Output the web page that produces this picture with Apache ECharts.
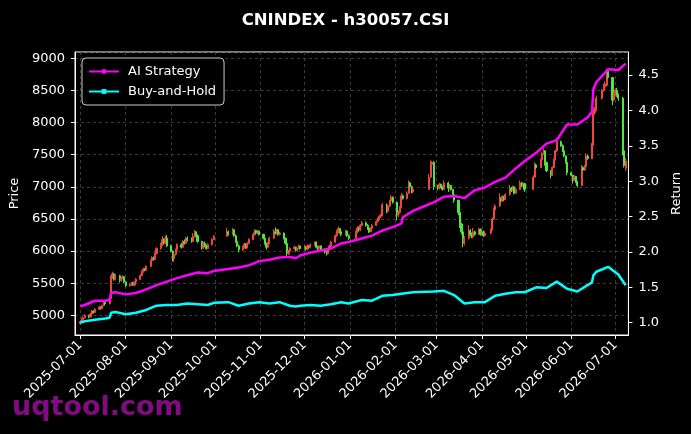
<!DOCTYPE html>
<html>
<head>
<meta charset="utf-8">
<script src="https://cdn.jsdelivr.net/npm/echarts@6/dist/echarts.min.js"></script>
<style>
  html, body { margin: 0; padding: 0; background: #000; }
  #main { width: 691px; height: 434px; }
</style>
</head>
<body>
<div id="main"></div>
<script>
/* 数据 */
var holidays = ['2025-10-01','2025-10-02','2025-10-03','2025-10-06','2025-10-07','2025-10-08',
  '2026-01-01','2026-01-02','2026-02-16','2026-02-17','2026-02-18','2026-02-19','2026-02-20','2026-02-23',
  '2026-04-06','2026-05-01','2026-05-04','2026-05-05','2026-06-19'];

// [open, close, low, high], one row per trading day
var ohlc = [
  // 2025-07
  [4870,4905,4850,4925],[4905,4935,4890,4960],[4935,4965,4920,4985],[4965,4995,4950,5020],
  [4995,4975,4955,5010],[4975,5020,4965,5040],[5020,5065,5005,5085],[5065,5045,5030,5080],
  [5045,5095,5035,5115],[5095,5125,5080,5150],[5125,5105,5090,5140],[5105,5150,5095,5170],
  [5150,5200,5140,5225],[5200,5180,5160,5215],[5180,5230,5170,5250],[5260,5590,5250,5620],
  [5590,5645,5570,5680],[5645,5560,5540,5660],[5560,5615,5545,5640],[5615,5540,5510,5630],
  [5540,5580,5525,5600],[5580,5600,5560,5625],[5600,5520,5500,5610],
  // 2025-08
  [5520,5460,5440,5530],[5460,5480,5445,5500],[5480,5505,5465,5520],[5505,5470,5455,5515],
  [5470,5520,5460,5535],[5520,5560,5505,5580],[5560,5620,5550,5640],[5620,5680,5610,5700],
  [5680,5720,5665,5740],[5720,5700,5685,5735],[5700,5760,5690,5780],[5760,5850,5750,5870],
  [5850,5900,5830,5920],[5900,5870,5850,5915],[5870,5960,5860,5980],[5960,6040,5950,6060],
  [6040,6100,6020,6130],[6100,6180,6080,6230],[6180,6120,6100,6200],[6120,6200,6110,6240],
  [6200,6080,6060,6250],
  // 2025-09
  [6080,6000,5980,6100],[6000,5880,5840,6010],[5880,5950,5830,5970],[5950,6020,5930,6040],
  [6020,6100,6000,6120],[6100,6060,6040,6130],[6060,6150,6050,6170],[6150,6120,6100,6180],
  [6120,6200,6110,6220],[6200,6180,6150,6230],[6180,6150,6130,6210],[6150,6230,6140,6280],
  [6230,6300,6210,6330],[6300,6240,6220,6310],[6240,6150,6130,6260],[6150,6050,6020,6160],
  [6050,6120,6030,6140],[6120,6080,6060,6150],[6080,6040,6020,6100],[6040,6100,6030,6120],
  [6100,6180,6090,6200],[6180,6230,6170,6250],
  // 2025-10
  [6230,6300,6220,6360],[6300,6270,6240,6320],[6270,6330,6250,6360],[6330,6240,6220,6340],
  [6240,6150,6130,6260],[6150,6080,6060,6170],[6080,6020,5980,6100],[6020,6060,6000,6080],
  [6060,6110,6040,6130],[6110,6050,6030,6120],[6050,6120,6040,6140],[6120,6180,6100,6200],
  [6180,6260,6170,6290],[6260,6320,6240,6340],[6320,6280,6260,6330],[6280,6310,6260,6330],
  [6310,6260,6240,6320],
  // 2025-11
  [6260,6200,6180,6270],[6200,6120,6100,6210],[6120,6060,6020,6130],[6060,6120,6050,6140],
  [6120,6200,6110,6220],[6200,6300,6190,6340],[6300,6280,6260,6370],[6280,6330,6260,6350],
  [6330,6260,6240,6340],[6260,6280,6240,6300],[6280,6200,6180,6290],[6200,6120,6100,6210],
  [6120,5960,5910,6130],[5960,6000,5940,6020],[6000,6040,5980,6060],[6040,6060,6020,6080],
  [6060,6010,5990,6070],[6010,6050,6000,6070],[6050,6080,6030,6100],[6080,6040,6020,6090],
  // 2025-12
  [6040,6070,6020,6090],[6070,6030,6010,6080],[6030,6080,6010,6100],[6080,6060,6040,6090],
  [6060,6100,6040,6120],[6100,6140,6080,6150],[6140,6060,6040,6150],[6060,6040,6010,6080],
  [6040,6080,6020,6090],[6080,6030,6010,6090],[6030,5990,5960,6040],[5990,5960,5930,6010],
  [5960,6020,5950,6040],[6020,6080,6010,6100],[6080,6140,6070,6160],[6140,6240,6130,6260],
  [6240,6300,6220,6330],[6300,6350,6280,6380],[6350,6300,6270,6360],[6300,6260,6230,6310],
  [6260,6310,6240,6330],[6310,6240,6220,6320],[6240,6200,6170,6260],
  // 2026-01
  [6200,6300,6190,6320],[6300,6360,6280,6390],[6360,6330,6300,6380],[6330,6400,6310,6420],
  [6400,6440,6380,6470],[6440,6400,6380,6460],[6400,6360,6330,6420],[6360,6300,6280,6380],
  [6300,6350,6290,6370],[6350,6400,6340,6420],[6400,6460,6390,6480],[6460,6500,6440,6520],
  [6500,6540,6480,6560],[6540,6560,6510,6580],[6560,6720,6540,6750],[6720,6620,6590,6740],
  [6620,6700,6600,6720],[6700,6780,6680,6800],[6780,6840,6760,6870],[6840,6760,6740,6850],
  // 2026-02
  [6760,6560,6480,6770],[6560,6600,6530,6630],[6600,6680,6580,6700],[6680,6860,6670,6900],
  [6860,6820,6800,6880],[6820,6900,6800,6930],[6900,7060,6890,7100],[7060,7000,6980,7080],
  [7000,6920,6900,7020],[6920,6960,6900,6990],[6960,7150,6950,7200],[7150,7350,7140,7410],
  [7350,7380,7320,7400],[7380,7000,6950,7400],
  // 2026-03
  [7000,6980,6950,7030],[6980,7040,6960,7060],[7040,7000,6980,7050],[7000,6960,6940,7020],
  [6960,7060,6950,7100],[7060,6980,6920,7080],[6980,7020,6960,7040],[7020,6960,6940,7030],
  [6960,6880,6860,6970],[6880,6790,6750,6900],[6790,6600,6560,6800],[6600,6420,6360,6610],
  [6420,6300,6260,6440],[6300,6120,6060,6320],[6120,6200,6090,6230],[6200,6320,6180,6400],
  [6320,6260,6230,6340],[6260,6220,6200,6290],[6220,6300,6200,6360],[6300,6260,6240,6320],
  [6260,6340,6250,6360],[6340,6260,6240,6350],
  // 2026-04
  [6260,6300,6240,6320],[6300,6240,6220,6320],[6240,6280,6230,6300],[6280,6330,6260,6350],
  [6330,6500,6320,6520],[6500,6640,6480,6680],[6640,6700,6620,6730],[6700,6820,6690,6900],
  [6820,6780,6760,6840],[6780,6850,6770,6870],[6850,6800,6780,6860],[6800,6880,6790,6900],
  [6880,6980,6860,7030],[6980,6940,6920,7000],[6940,7000,6930,7020],[7000,6900,6880,7010],
  [6900,6960,6890,6980],[6960,7060,6950,7100],[7060,7020,7000,7080],[7020,7050,7000,7070],
  [7050,6960,6920,7060],
  // 2026-05
  [6960,7150,6950,7180],[7150,7340,7140,7380],[7340,7300,7280,7360],[7300,7420,7290,7440],
  [7420,7520,7400,7540],[7520,7560,7500,7600],[7560,7380,7330,7570],[7380,7250,7230,7390],
  [7250,7180,7130,7260],[7180,7300,7170,7320],[7300,7420,7290,7440],[7420,7560,7410,7580],
  [7560,7700,7540,7760],[7700,7640,7620,7720],[7640,7560,7540,7660],[7560,7480,7460,7570],
  [7480,7380,7360,7490],[7380,7220,7180,7390],
  // 2026-06
  [7220,7180,7160,7240],[7180,7100,7050,7190],[7100,7160,7090,7180],[7160,7080,7060,7170],
  [7080,7020,6990,7090],[7020,7300,7010,7340],[7300,7260,7240,7320],[7260,7320,7250,7340],
  [7320,7480,7310,7520],[7480,7440,7420,7500],[7440,7650,7430,7680],[7650,8150,7640,8220],
  [8150,8200,8120,8240],[8200,8380,8180,8420],[8380,8500,8360,8520],[8500,8560,8480,8600],
  [8560,8600,8540,8640],[8580,8800,8560,8840],[8800,8700,8680,8820],[8700,8350,8270,8710],
  [8350,8450,8330,8480],
  // 2026-07
  [8450,8500,8420,8530],[8500,8420,8400,8540],[8420,8380,8340,8450],[8380,7560,7490,8400],
  [7560,7330,7300,7580],[7290,7400,7250,7450]
];

var lineDates = ['2025-07-01','2025-07-04','2025-07-11','2025-07-18','2025-07-21','2025-07-22','2025-07-25',
  '2025-08-01','2025-08-08','2025-08-15','2025-08-22','2025-08-29','2025-09-05','2025-09-12','2025-09-19',
  '2025-09-26','2025-09-30','2025-10-10','2025-10-17','2025-10-24','2025-10-31','2025-11-07','2025-11-14',
  '2025-11-21','2025-11-25','2025-11-28','2025-12-05','2025-12-12','2025-12-19','2025-12-26','2025-12-31',
  '2026-01-09','2026-01-16','2026-01-23','2026-01-30','2026-02-05','2026-02-06','2026-02-13','2026-02-27',
  '2026-03-06','2026-03-13','2026-03-20','2026-03-27','2026-04-03','2026-04-10','2026-04-17','2026-04-24',
  '2026-04-30','2026-05-08','2026-05-15','2026-05-22','2026-05-29','2026-06-05','2026-06-12','2026-06-15',
  '2026-06-16','2026-06-18','2026-06-26','2026-07-03','2026-07-08'];
var aiReturn = [1.23,1.25,1.31,1.31,1.32,1.42,1.43,
  1.40,1.42,1.47,1.53,1.58,1.63,1.67,1.71,
  1.70,1.73,1.76,1.78,1.81,1.87,1.89,1.92,
  1.93,1.91,1.95,1.99,2.02,2.05,2.12,2.14,
  2.19,2.23,2.30,2.35,2.40,2.49,2.58,2.70,
  2.78,2.79,2.76,2.87,2.91,2.99,3.05,3.18,
  3.28,3.40,3.53,3.58,3.80,3.80,3.90,3.98,
  4.30,4.40,4.58,4.57,4.66];
var bhReturn = [1.00,1.02,1.04,1.06,1.07,1.14,1.15,
  1.12,1.14,1.18,1.24,1.25,1.25,1.27,1.26,
  1.25,1.28,1.29,1.24,1.27,1.29,1.27,1.29,
  1.24,1.23,1.24,1.25,1.24,1.26,1.29,1.27,
  1.32,1.31,1.38,1.39,1.41,1.40,1.43,1.44,
  1.45,1.39,1.27,1.29,1.29,1.38,1.41,1.43,
  1.43,1.50,1.49,1.58,1.48,1.44,1.53,1.57,
  1.67,1.72,1.79,1.68,1.53];

/* 交易日 */
function fmt(d) {
  var m = d.getMonth() + 1, dd = d.getDate();
  return d.getFullYear() + '-' + (m < 10 ? '0' + m : m) + '-' + (dd < 10 ? '0' + dd : dd);
}
var tradeDays = [];
for (var d = new Date(2025, 6, 1); d <= new Date(2026, 6, 8); d.setDate(d.getDate() + 1)) {
  var wd = d.getDay();
  var s = fmt(d);
  if (wd !== 0 && wd !== 6 && holidays.indexOf(s) < 0) tradeDays.push(s);
}
if (tradeDays.length !== ohlc.length) console.log('count mismatch', tradeDays.length, ohlc.length);

var candleData = ohlc.map(function (r, i) { return [tradeDays[i], r[0], r[1], r[2], r[3]]; });
var aiData = lineDates.map(function (t, i) { return [t, aiReturn[i]]; });
var bhData = lineDates.map(function (t, i) { return [t, bhReturn[i]]; });

var chart = echarts.init(document.getElementById('main'));
var FONT = 'DejaVu Sans';
var gridLine = { show: true, lineStyle: { color: '#4a4a4a', type: [3, 3], width: 0.8 } };

var option = {
  backgroundColor: '#000',
  animation: false,
  textStyle: { fontFamily: FONT },
  title: {
    text: 'CNINDEX - h30057.CSI',
    left: 'center',
    top: 7,
    textStyle: { color: '#fff', fontSize: 16.5, fontWeight: 'bold', fontFamily: FONT }
  },
  legend: {
    left: 82, top: 58,
    orient: 'vertical',
    padding: [7, 8, 7, 6],
    itemGap: 7,
    itemWidth: 30, itemHeight: 6,
    backgroundColor: '#000',
    borderColor: '#cccccc', borderWidth: 1, borderRadius: 4,
    textStyle: { color: '#fff', fontSize: 13, fontFamily: FONT, padding: [0, 0, 0, 4] },
    data: ['AI Strategy', 'Buy-and-Hold']
  },
  grid: {
    left: 75, right: 61, top: 52, bottom: 99,
    show: true, borderColor: '#fff', borderWidth: 1, backgroundColor: '#000'
  },
  xAxis: {
    type: 'time',
    min: '2025-06-27 10:00',
    max: '2026-07-09 21:00',
    splitNumber: 12,
    minInterval: 28 * 86400000,
    axisLine: { lineStyle: { color: '#fff' } },
    axisTick: { show: true, length: 4, lineStyle: { color: '#fff' } },
    axisLabel: {
      color: '#fff', fontSize: 13, rotate: 45, margin: 8,
      formatter: '{yyyy}-{MM}-{dd}', showMinLabel: false, showMaxLabel: false
    },
    splitLine: gridLine
  },
  yAxis: [{
    type: 'value',
    min: 4694, max: 9098,
    splitNumber: 9,
    name: 'Price', nameLocation: 'middle', nameGap: 51,
    nameTextStyle: { color: '#fff', fontSize: 13 },
    axisLine: { show: true, lineStyle: { color: '#fff' } },
    axisTick: { show: true, length: 4, lineStyle: { color: '#fff' } },
    axisLabel: {
      color: '#fff', fontSize: 13, margin: 10, showMinLabel: false, showMaxLabel: false,
      formatter: function (v) { return String(v); }
    },
    splitLine: gridLine
  }, {
    type: 'value',
    min: 0.826, max: 4.825,
    splitNumber: 8,
    position: 'right',
    name: 'Return', nameLocation: 'middle', nameGap: 36,
    nameTextStyle: { color: '#fff', fontSize: 13 },
    axisLine: { show: true, lineStyle: { color: '#fff' } },
    axisTick: { show: true, length: 4, lineStyle: { color: '#fff' } },
    axisLabel: {
      color: '#fff', fontSize: 13, margin: 10, showMinLabel: false, showMaxLabel: false,
      formatter: function (v) { return v.toFixed(1); }
    },
    splitLine: { show: false }
  }],
  graphic: [{
    type: 'text', left: 12, top: 394, z: 0,
    style: { text: 'uqtool.com', fill: '#820a82', font: 'bold 27px "DejaVu Sans"' }
  }],
  series: [{
    name: 'Price',
    type: 'candlestick',
    data: candleData,
    encode: { x: 0, y: [1, 2, 3, 4] },
    barWidth: 1.6,
    itemStyle: {
      color: '#f0463c', color0: '#4ee83a',
      borderColor: '#f0463c', borderColor0: '#4ee83a', borderWidth: 1
    }
  }, {
    name: 'AI Strategy',
    type: 'line',
    yAxisIndex: 1,
    data: aiData,
    symbol: 'circle', symbolSize: 5, showSymbol: false,
    lineStyle: { color: '#ff00ff', width: 2.5 },
    itemStyle: { color: '#ff00ff' },
    z: 3
  }, {
    name: 'Buy-and-Hold',
    type: 'line',
    yAxisIndex: 1,
    data: bhData,
    symbol: 'rect', symbolSize: 5, showSymbol: false,
    lineStyle: { color: '#00ffff', width: 2.5 },
    itemStyle: { color: '#00ffff' },
    z: 3
  }]
};
chart.setOption(option);
</script>
</body>
</html>
